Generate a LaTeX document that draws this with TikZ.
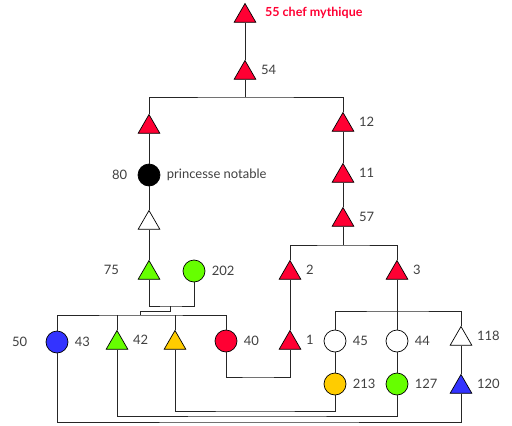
\documentclass[tikz,border=0pt]{standalone}
\usepackage{fontspec}
\setmainfont{Lato}
\usetikzlibrary{shapes.geometric}
\definecolor{rouge}{HTML}{FF0033}
\definecolor{vert}{HTML}{66FF00}
\definecolor{bleu}{HTML}{3333FF}
\definecolor{jaune}{HTML}{FFCC00}
\definecolor{gris}{HTML}{404040}
\tikzset{
  etiq/.style={label={[yshift=3pt,label distance=5pt]right:#1}},
  etiqg/.style={label={[yshift=3pt,label distance=19pt]left:#1}},
  etiqf/.style={label={[label distance=3pt]right:#1}},
}
\begin{document}
\begin{tikzpicture}[x=1pt,y=1pt]
\tikzstyle{every label}=[text=gris,font=\fontsize{13}{15}\selectfont]
\tikzstyle{homme}=[regular polygon,regular polygon sides=3,draw=black,line width=0.7pt,minimum size=25pt,inner sep=0pt]
\tikzstyle{femme}=[circle,draw=black,line width=0.7pt,minimum size=22pt,inner sep=0pt]
\tikzstyle{lien}=[line width=0.8pt,draw=black!85]
\useasboundingbox (0,0) rectangle (512,-426);
% generations du haut
\node [homme,fill=rouge,label={[text=rouge,font=\fontsize{12.5}{15}\selectfont\bfseries,yshift=3pt,label distance=9pt]right:55 chef mythique}] (n55) at (245,-16) {};
\node [homme,fill=rouge,etiq=54] (n54) at (245,-73) {};
\node [homme,fill=rouge] (ga) at (149,-127) {};
\node [homme,fill=rouge,etiq=12] (n12) at (343,-125) {};
\node [femme,fill=black,label={[label distance=7pt]left:80},etiqf=princesse notable] (n80) at (149,-175) {};
\node [homme,fill=rouge,etiq=11] (n11) at (343,-176) {};
\node [homme,fill=white] (nx) at (149,-223) {};
\node [homme,fill=rouge,etiq=57] (n57) at (343,-220) {};
\node [homme,fill=vert,etiqg=75] (n75) at (149,-273) {};
\node [femme,fill=vert,etiqf=202] (n202) at (194,-271) {};
\node [homme,fill=rouge,etiq=2] (n2) at (290,-273) {};
\node [homme,fill=rouge,etiq=3] (n3) at (397,-273) {};
% generation du bas
\node [femme,fill=bleu,etiqf=43,label={[label distance=15pt]left:50}] (n43) at (57,-342) {};
\node [homme,fill=vert,etiq=42] (n42) at (117,-343) {};
\node [homme,fill=jaune] (ny) at (175,-343) {};
\node [femme,fill=rouge,etiqf=40] (n40) at (226,-341) {};
\node [homme,fill=rouge,etiq=1] (n1) at (290,-343) {};
\node [femme,fill=white,etiqf=45] (n45) at (335,-341) {};
\node [femme,fill=white,etiqf=44] (n44) at (397,-341) {};
\node [homme,fill=white,etiq=118] (n118) at (461,-339) {};
\node [femme,fill=jaune,etiqf=213] (n213) at (335,-384) {};
\node [femme,fill=vert,etiqf=127] (n127) at (397,-384) {};
\node [homme,fill=bleu,etiq=120] (n120) at (461,-387) {};
% liens
\coordinate (b54) at (245,-97);
\coordinate (b57) at (343,-245);
\coordinate (m75) at (170,-306);
\coordinate (f75) at (140,-315);
\coordinate (b3) at (397,-311);
\coordinate (m40) at (258,-377);
\coordinate (my) at (255,-411);
\coordinate (m42) at (257,-416);
\coordinate (m43) at (259,-422);
\draw [lien] (n55.south) -- (n54.north);
\draw [lien] (n54.south) -- (b54);
\draw [lien] (ga.north) |- (b54) -| (n12.north);
\draw [lien] (ga.south) -- (n80.north);
\draw [lien] (n80.south) -- (nx.north);
\draw [lien] (nx.south) -- (n75.north);
\draw [lien] (n12.south) -- (n11.north);
\draw [lien] (n11.south) -- (n57.north);
\draw [lien] (n57.south) -- (b57);
\draw [lien] (n2.north) |- (b57) -| (n3.north);
\draw [lien] (n75.south) |- (m75) -| (n202.south);
\draw [lien] (m75) -- ++(0,-5) -| (f75);
\draw [lien] (n43.north) |- (f75) -| (n40.north);
\draw [lien] (n42.north) -- (n42 |- f75);
\draw [lien] (ny.north) -- (ny |- f75);
\draw [lien] (n2.south) -- (n1.north);
\draw [lien] (n3.south) -- (n44.north);
\draw [lien] (n45.north) |- (b3) -| (n118.north);
\draw [lien] (n45.south) -- (n213.north);
\draw [lien] (n44.south) -- (n127.north);
\draw [lien] (n118.south) -- (n120.north);
\draw [lien] (n40.south) |- (m40) -| (n1.south);
\draw [lien] (ny.south) |- (my) -| (n213.south);
\draw [lien] (n42.south) |- (m42) -| (n127.south);
\draw [lien] (n43.south) |- (m43) -| (n120.south);
\end{tikzpicture}
\end{document}
